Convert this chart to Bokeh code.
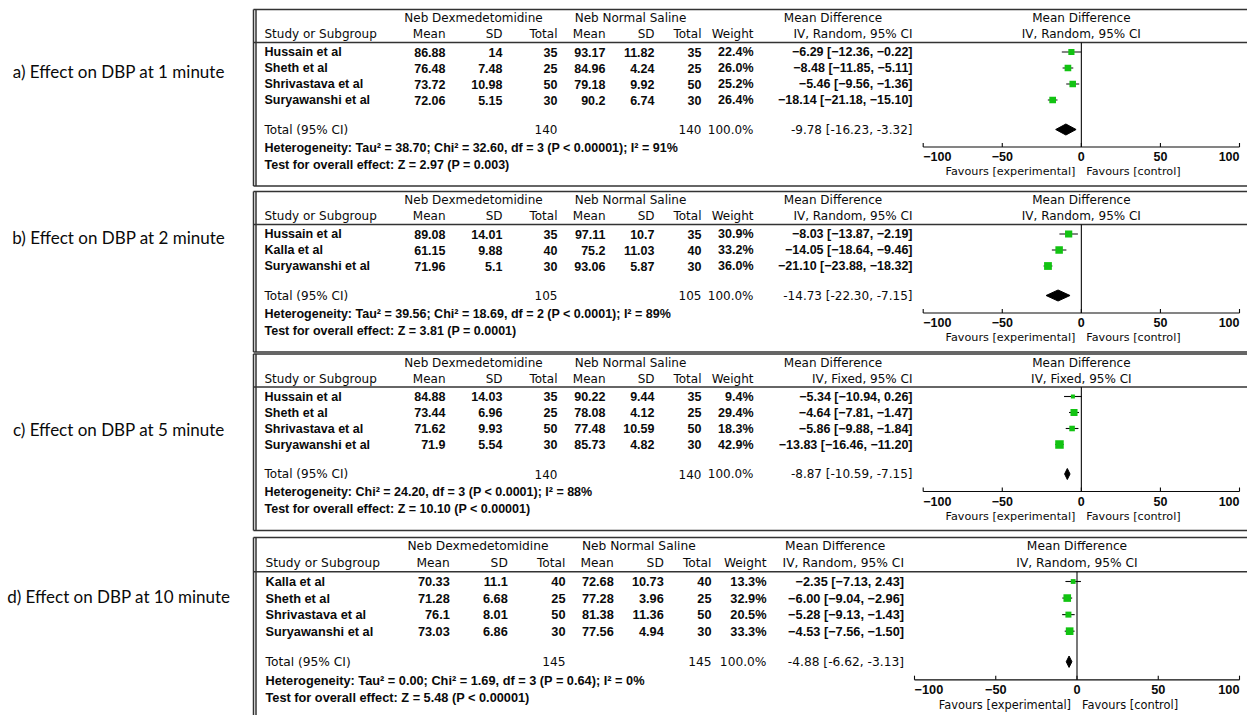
import math
from bokeh.plotting import figure
from bokeh.models import Range1d, ColumnDataSource
from bokeh.core.properties import value
from bokeh.embed import file_html
from bokeh.resources import INLINE

# ---------------- data ----------------
panel_titles = ["a) Effect on DBP at 1 minute", "b) Effect on DBP at 2 minute",
                "c) Effect on DBP at 5 minute", "d) Effect on DBP at 10 minute"]

# a) 1 minute
studies_1 = ["Hussain et al", "Sheth et al", "Shrivastava et al", "Suryawanshi et al"]
dex_mean_1 = [86.88, 76.48, 73.72, 72.06]
dex_sd_1 = [14, 7.48, 10.98, 5.15]
dex_n_1 = [35, 25, 50, 30]
ns_mean_1 = [93.17, 84.96, 79.18, 90.2]
ns_sd_1 = [11.82, 4.24, 9.92, 6.74]
ns_n_1 = [35, 25, 50, 30]
weight_1 = [22.4, 26.0, 25.2, 26.4]
md_1 = [-6.29, -8.48, -5.46, -18.14]
lo_1 = [-12.36, -11.85, -9.56, -21.18]
hi_1 = [-0.22, -5.11, -1.36, -15.10]
pooled_1 = [-9.78, -16.23, -3.32]
totals_1 = [140, 140, 100.0]
het_1 = "Heterogeneity: Tau² = 38.70; Chi² = 32.60, df = 3 (P < 0.00001); I² = 91%"
test_1 = "Test for overall effect: Z = 2.97 (P = 0.003)"
method_1 = "IV, Random, 95% CI"

# b) 2 minute
studies_2 = ["Hussain et al", "Kalla et al", "Suryawanshi et al"]
dex_mean_2 = [89.08, 61.15, 71.96]
dex_sd_2 = [14.01, 9.88, 5.1]
dex_n_2 = [35, 40, 30]
ns_mean_2 = [97.11, 75.2, 93.06]
ns_sd_2 = [10.7, 11.03, 5.87]
ns_n_2 = [35, 40, 30]
weight_2 = [30.9, 33.2, 36.0]
md_2 = [-8.03, -14.05, -21.10]
lo_2 = [-13.87, -18.64, -23.88]
hi_2 = [-2.19, -9.46, -18.32]
pooled_2 = [-14.73, -22.30, -7.15]
totals_2 = [105, 105, 100.0]
het_2 = "Heterogeneity: Tau² = 39.56; Chi² = 18.69, df = 2 (P < 0.0001); I² = 89%"
test_2 = "Test for overall effect: Z = 3.81 (P = 0.0001)"
method_2 = "IV, Random, 95% CI"

# c) 5 minute
studies_3 = ["Hussain et al", "Sheth et al", "Shrivastava et al", "Suryawanshi et al"]
dex_mean_3 = [84.88, 73.44, 71.62, 71.9]
dex_sd_3 = [14.03, 6.96, 9.93, 5.54]
dex_n_3 = [35, 25, 50, 30]
ns_mean_3 = [90.22, 78.08, 77.48, 85.73]
ns_sd_3 = [9.44, 4.12, 10.59, 4.82]
ns_n_3 = [35, 25, 50, 30]
weight_3 = [9.4, 29.4, 18.3, 42.9]
md_3 = [-5.34, -4.64, -5.86, -13.83]
lo_3 = [-10.94, -7.81, -9.88, -16.46]
hi_3 = [0.26, -1.47, -1.84, -11.20]
pooled_3 = [-8.87, -10.59, -7.15]
totals_3 = [140, 140, 100.0]
het_3 = "Heterogeneity: Chi² = 24.20, df = 3 (P < 0.0001); I² = 88%"
test_3 = "Test for overall effect: Z = 10.10 (P < 0.00001)"
method_3 = "IV, Fixed, 95% CI"

# d) 10 minute
studies_4 = ["Kalla et al", "Sheth et al", "Shrivastava et al", "Suryawanshi et al"]
dex_mean_4 = [70.33, 71.28, 76.1, 73.03]
dex_sd_4 = [11.1, 6.68, 8.01, 6.86]
dex_n_4 = [40, 25, 50, 30]
ns_mean_4 = [72.68, 77.28, 81.38, 77.56]
ns_sd_4 = [10.73, 3.96, 11.36, 4.94]
ns_n_4 = [40, 25, 50, 30]
weight_4 = [13.3, 32.9, 20.5, 33.3]
md_4 = [-2.35, -6.00, -5.28, -4.53]
lo_4 = [-7.13, -9.04, -9.13, -7.56]
hi_4 = [2.43, -2.96, -1.43, -1.50]
pooled_4 = [-4.88, -6.62, -3.13]
totals_4 = [145, 145, 100.0]
het_4 = "Heterogeneity: Tau² = 0.00; Chi² = 1.69, df = 3 (P = 0.64); I² = 0%"
test_4 = "Test for overall effect: Z = 5.48 (P < 0.00001)"
method_4 = "IV, Random, 95% CI"

axis_ticks = [-100, -50, 0, 50, 100]
axis_tick_labels = ["−100", "−50", "0", "50", "100"]
group_names = ["Neb Dexmedetomidine", "Neb Normal Saline"]
column_names = ["Mean", "SD", "Total", "Mean", "SD", "Total"]

# ---------------- page layout ----------------
W, H = 1247, 715
INK = "#0a0a0a"
RULE = "#333333"
GREEN = "#12c312"
HEAD_FONT = "DejaVu Sans"
BOLD_FONT = "Liberation Sans"

# Table geometry of each panel (pixel layout of the page)
ABC = dict(left=253, name_x=264, cols=[445, 502, 557, 605, 654, 701],
           w_right=753, ci_right=912, grp_x=[473, 630], f0=922.7, f1=1239, fs=1.0, sy=1.0)
GEOM = [
    dict(ABC, row1=51.5, label_y=71.0),
    dict(ABC, row1=233.5, label_y=236.7),
    dict(ABC, row1=396.0, label_y=429.3),
    dict(left=253, name_x=265, cols=[449.3, 507.3, 565, 613.3, 663.3, 711],
         w_right=766, ci_right=903.5, grp_x=[477.5, 638.3], f0=914, f1=1239,
         fs=1.02, sy=1.035, row1=581.0, label_y=596.0),
]

p = figure(width=W, height=H, x_range=Range1d(0, W), y_range=Range1d(H, 0),
           x_axis_type=None, y_axis_type=None, toolbar_location=None,
           output_backend="svg", min_border=0, outline_line_color=None,
           background_fill_color="white", border_fill_color="white")


def txt(xs, ys, texts, align="left", font=HEAD_FONT, size=12.0, bold=False,
        range_name="default", x_offset=0):
    src = ColumnDataSource(dict(x=list(xs), y=list(ys), text=list(texts)))
    p.text(x="x", y="y", text="text", source=src, text_align=align,
           text_baseline="middle", text_font=value(font),
           text_font_size=value(f"{size:.2f}px"),
           text_font_style="bold" if bold else "normal", text_color=INK,
           x_offset=x_offset, x_range_name=range_name)


def num(v):
    return f"{v:g}"


def signed(v):
    return f"{v:.2f}".replace("-", "−")


def draw_panel(i, title, studies, dm, dsd, dn, nm, nsd, nn, wt, md, lo, hi,
               pooled, totals, het, test, method):
    g = GEOM[i]
    s, fs = g["sy"], g["fs"]
    k = len(studies)
    rows = [g["row1"] + j * 16 * s for j in range(k)]
    y_tot = rows[-1] + 29.5 * s
    y_het = y_tot + 18.3 * s
    y_test = y_tot + 35 * s
    y_axis = y_tot + 17.5 * s
    y_tick = y_axis + 9.5 * s
    y_fav = y_axis + 24.5 * s
    y_top = g["row1"] - 42.5 * s
    y_grp = g["row1"] - 34 * s
    y_head = g["row1"] - 18 * s
    y_sep = g["row1"] - 9.5 * s
    y_bot = y_tot + 56.5 * s
    left = g["left"]
    bottom = min(y_bot, H + 2)

    # panel frame: top rule, double left rule, header rule, bottom rule
    x0s = [left, left, left + 2.5, left]
    y0s = [y_top, y_top, y_top, y_sep]
    x1s = [W, left, left + 2.5, W]
    y1s = [y_top, bottom, bottom, y_sep]
    if y_bot < H:
        x0s.append(left); y0s.append(y_bot); x1s.append(W); y1s.append(y_bot)
    p.segment(x0=x0s, y0=y0s, x1=x1s, y1=y1s, line_color=RULE, line_width=1.5)

    # panel title on the left
    txt([118.3], [g["label_y"]], [title], align="center", font="Lato", size=17.0)

    hs = 12.0 * fs
    bs = 12.5 * fs
    c = g["cols"]
    # header rows
    txt(g["grp_x"], [y_grp] * 2, group_names, align="center", size=hs)
    txt([g["name_x"]], [y_head], ["Study or Subgroup"], size=hs)
    txt(c + [g["w_right"]], [y_head] * 7, column_names + ["Weight"], align="right", size=hs)
    txt([(g["w_right"] + g["ci_right"]) / 2], [y_grp], ["Mean Difference"], align="center", size=hs)
    txt([g["ci_right"]], [y_head], [method], align="right", size=hs)

    # study rows
    txt([g["name_x"]] * k, rows, studies, font=BOLD_FONT, size=bs, bold=True)
    cells_x, cells_y, cells_t = [], [], []
    for j in range(k):
        vals = [num(dm[j]), num(dsd[j]), str(dn[j]), num(nm[j]), num(nsd[j]), str(nn[j]),
                f"{wt[j]:.1f}%", f"{signed(md[j])} [{signed(lo[j])}, {signed(hi[j])}]"]
        xs = c + [g["w_right"], g["ci_right"]]
        cells_x += xs
        cells_y += [rows[j]] * len(xs)
        cells_t += vals
    txt(cells_x, cells_y, cells_t, align="right", font=BOLD_FONT, size=bs, bold=True)

    # pooled row
    txt([g["name_x"]], [y_tot], ["Total (95% CI)"], size=hs)
    txt([c[2], c[5], g["w_right"], g["ci_right"]], [y_tot] * 4,
        [str(totals[0]), str(totals[1]), f"{totals[2]:.1f}%",
         f"{pooled[0]:.2f} [{pooled[1]:.2f}, {pooled[2]:.2f}]"], align="right", size=hs)
    txt([g["name_x"]] * 2, [y_het, y_test], [het, test], font=BOLD_FONT, size=bs, bold=True)

    # forest plot on its own mean-difference scale
    kx = 200.0 / (g["f1"] - g["f0"])
    rname = f"md{i}"
    ranges = dict(p.extra_x_ranges)
    ranges[rname] = Range1d(-100 - g["f0"] * kx, 100 + (W - g["f1"]) * kx)
    p.extra_x_ranges = ranges

    txt([0], [y_grp], ["Mean Difference"], align="center", size=hs, range_name=rname)
    txt([0], [y_head], [method], align="center", size=hs, range_name=rname)

    # line of no effect and the axis
    p.segment(x0=[0], y0=[y_sep], x1=[0], y1=[y_axis], x_range_name=rname,
              line_color=INK, line_width=1.1)
    p.segment(x0=[axis_ticks[0]], y0=[y_axis], x1=[axis_ticks[-1]], y1=[y_axis],
              x_range_name=rname, line_color=INK, line_width=1.1)
    p.segment(x0=axis_ticks, y0=[y_axis] * 5, x1=axis_ticks, y1=[y_axis - 4 * s] * 5,
              x_range_name=rname, line_color=INK, line_width=1.1)
    txt(axis_ticks[:1], [y_tick], axis_tick_labels[:1], align="left", font=BOLD_FONT,
        size=bs, bold=True, range_name=rname)
    txt(axis_ticks[1:4], [y_tick] * 3, axis_tick_labels[1:4], align="center", font=BOLD_FONT,
        size=bs, bold=True, range_name=rname)
    txt(axis_ticks[4:], [y_tick], axis_tick_labels[4:], align="right", font=BOLD_FONT,
        size=bs, bold=True, range_name=rname)
    txt([0], [y_fav], ["Favours [experimental]"], align="right", size=11.2 * fs,
        range_name=rname, x_offset=-6)
    txt([0], [y_fav], ["Favours [control]"], align="left", size=11.2 * fs,
        range_name=rname, x_offset=5)

    # study estimates: CI whiskers and weight-sized squares
    p.segment(x0=lo, y0=rows, x1=hi, y1=rows, x_range_name=rname,
              line_color=INK, line_width=1.1)
    p.scatter(x=md, y=rows, marker="square", size=[1.3 * math.sqrt(w) * fs for w in wt],
              fill_color=GREEN, line_color=None, x_range_name=rname)

    # pooled diamond
    hh = 5.5 * s
    p.patch(x=[pooled[1], pooled[0], pooled[2], pooled[0]],
            y=[y_tot, y_tot - hh, y_tot, y_tot + hh], x_range_name=rname,
            fill_color="black", line_color="black", line_width=1)


draw_panel(0, panel_titles[0], studies_1, dex_mean_1, dex_sd_1, dex_n_1, ns_mean_1, ns_sd_1,
           ns_n_1, weight_1, md_1, lo_1, hi_1, pooled_1, totals_1, het_1, test_1, method_1)
draw_panel(1, panel_titles[1], studies_2, dex_mean_2, dex_sd_2, dex_n_2, ns_mean_2, ns_sd_2,
           ns_n_2, weight_2, md_2, lo_2, hi_2, pooled_2, totals_2, het_2, test_2, method_2)
draw_panel(2, panel_titles[2], studies_3, dex_mean_3, dex_sd_3, dex_n_3, ns_mean_3, ns_sd_3,
           ns_n_3, weight_3, md_3, lo_3, hi_3, pooled_3, totals_3, het_3, test_3, method_3)
draw_panel(3, panel_titles[3], studies_4, dex_mean_4, dex_sd_4, dex_n_4, ns_mean_4, ns_sd_4,
           ns_n_4, weight_4, md_4, lo_4, hi_4, pooled_4, totals_4, het_4, test_4, method_4)

open("out.html", "w").write(file_html(p, INLINE))
